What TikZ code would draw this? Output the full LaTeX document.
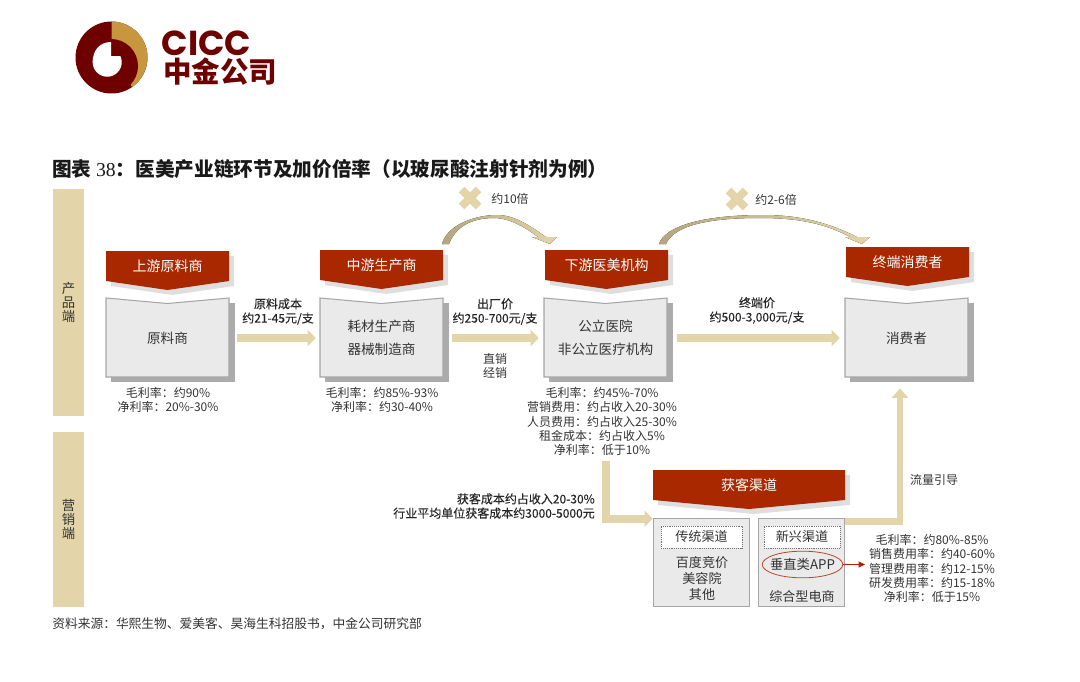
\documentclass[tikz,border=0pt]{standalone}
\usepackage{fontspec}
\setmainfont{Noto Sans CJK SC}
\newfontfamily\serifdigits{Liberation Serif}
\newfontfamily\logofont{Poppins}
\newfontfamily\medfont[FakeBold=0.15]{Noto Sans CJK SC}
\usetikzlibrary{arrows.meta, calc, shapes.geometric}
\definecolor{ciccred}{HTML}{A92800}
\definecolor{logored}{HTML}{6E0000}
\definecolor{logogold}{HTML}{C8963E}
\definecolor{sand}{HTML}{E3D5A9}
\definecolor{sanddark}{HTML}{B5A67F}
\definecolor{sandpale}{HTML}{F0E9D4}
\definecolor{boxgray}{HTML}{EAEAEA}
\definecolor{boxline}{HTML}{A6A6A6}
\definecolor{shadowdark}{HTML}{ABABAB}
\definecolor{shadowlight}{HTML}{DEDEDE}
\definecolor{ink}{HTML}{333333}
\tikzset{
  notelabel/.style={inner sep=0pt, align=center, text=ink, font=\fontsize{9}{10.7}\selectfont},
  flowlabel/.style={inner sep=0pt, align=center, text=black!85, font=\medfont\fontsize{9}{10.7}\selectfont},
  sidelabel/.style={inner sep=0pt, align=center, text=ink, font=\fontsize{10}{10.5}\selectfont},
  bannerlabel/.style={inner sep=0pt, minimum height=22.5pt, text=white, font=\fontsize{10.5}{12}\selectfont},
  boxlabel/.style={inner sep=0pt, minimum width=92.25pt, minimum height=59.25pt, align=center,
    text=ink, font=\fontsize{10.2}{17.2}\selectfont},
  chanbox/.style={draw=boxline, fill=boxgray, line width=.8pt, inner sep=0pt},
  chantag/.style={draw=black!55, densely dotted, fill=white, inner sep=0pt, minimum height=16.5pt,
    text=ink, font=\fontsize{9.8}{12}\selectfont},
  flowarrow/.style={draw=sand, line width=6pt, -{Triangle[length=6pt, width=12pt]}},
  liftarrow/.style={draw=sand, line width=4.8pt, -{Triangle[length=7pt, width=12pt]}},
}
\begin{document}
\begin{tikzpicture}[x=0.75pt, y=-0.75pt]
  \useasboundingbox (0,0) rectangle (1080,681);
  % logo
  \fill[logored] (111.5,57.5) circle (27pt);
  \fill[logogold] (111.5,21.5) arc (90:-55:27pt) -- (111.5,57.5) -- cycle;
  \fill[logored] (111,66) circle (20.25pt);
  \fill[white] (107.2,62.2) circle (10.9pt);
  \fill[logored] (111,45) rectangle (123,56);
  \fill[white] (111,42) .. controls (100,42) and (92.7,50) .. (92.7,62) -- (111,62) -- cycle;
  \node[inner sep=0pt, anchor=base west, text height=19pt, text depth=0pt, text=logored,
    font=\logofont\bfseries\fontsize{26}{26}\selectfont] (logoname) at (161.5,55.5) {CICC};
  \node[inner sep=0pt, anchor=base west, text height=17pt, text depth=2pt, text=logored,
    font=\bfseries\fontsize{21.4}{21}\selectfont] (logocn) at (163,83) {中金公司};
  % title
  \node[inner sep=0pt, anchor=west, text=black!90, font=\bfseries\fontsize{14.75}{16}\selectfont] (charttitle) at (52,169)
    {图表 {\serifdigits\mdseries 38}：医美产业链环节及加价倍率（以玻尿酸注射针剂为例）};
  % side bars
  \fill[sand] (53,189) rectangle (84,416);
  \fill[sand] (53,432) rectangle (84,607);
  \node[sidelabel] (productside) at (68.5,302) {产\\品\\端};
  \node[sidelabel] (marketside) at (68.5,519) {营\\销\\端};
  % notched boxes
  \foreach \nm/\x/\y/\txt in {rawbox/106/298/原料商, midbox/320/298/{耗材生产商\\器械制造商},
      lowbox/544/298/{公立医院\\非公立医疗机构}, endbox/845/298/消费者}{
    \fill[shadowdark] (\x+5,\y+5) rectangle (\x+129,\y+84);
    \draw[boxline, fill=boxgray, line width=.8pt] (\x,\y) -- (\x+61.5,\y+5.5) -- (\x+123,\y)
      -- (\x+123,\y+79) -- (\x,\y+79) -- cycle;
    \node[boxlabel] (\nm) at (\x+61.5,\y+40) {\txt};
  }
  % red banners
  \foreach \nm/\x/\y/\w/\txt in {rawban/106/251/123/上游原料商, midban/320/250/123/中游生产商,
      lowban/545/250/123/下游医美机构, endban/846/247/123/终端消费者, chanban/653/470/192/获客渠道}{
    \fill[shadowlight] (\x+5,\y+5) -- (\x+\w+5,\y+5) -- (\x+\w+5,\y+35) -- (\x+\w/2+5,\y+44) -- (\x+5,\y+35) -- cycle;
    \fill[ciccred] (\x,\y) -- (\x+\w,\y) -- (\x+\w,\y+30) -- (\x+\w/2,\y+39) -- (\x,\y+30) -- cycle;
    \node[bannerlabel, minimum width=\w*0.75pt] (\nm) at (\x+\w/2,\y+15) {\txt};
  }
  % channel boxes
  \node[chanbox, minimum width=72.5pt, minimum height=66.5pt] (chanold) at (701.5,562.5) {};
  \node[chanbox, minimum width=65pt, minimum height=66.5pt] (channew) at (801.5,562.5) {};
  \node[chantag, minimum width=60.5pt] (oldtag) at (701.5,537) {传统渠道};
  \node[chantag, minimum width=57pt] (newtag) at (802,537) {新兴渠道};
  \node[inner sep=0pt, align=center, text=ink, font=\fontsize{9.8}{12}\selectfont] (oldlist) at (702,578) {百度竞价\\美容院\\其他};
  \node[draw=ciccred!85, ellipse, line width=.6pt, minimum height=20pt, inner xsep=-3pt, inner ysep=0pt,
    text=ink, font=\fontsize{10}{12}\selectfont] (appring) at (802.5,564.5) {垂直类APP};
  \node[inner sep=0pt, text=ink, font=\fontsize{9.8}{12}\selectfont] (mallname) at (802,596) {综合型电商};
  % flow arrows
  \draw[flowarrow] ($(rawbox.east)+(8,0)$) -- ($(midbox.west)+(-4,0)$);
  \draw[flowarrow] ($(midbox.east)+(9,0)$) -- ($(lowbox.west)+(-5,0)$);
  \draw[flowarrow] ($(lowbox.east)+(10,0)$) -- ($(endbox.west)+(-5,0)$);
  % text notes
  \node[flowlabel] (rawcost) at (278,311.5) {原料成本\\约21-45元/支};
  \node[flowlabel] (factorycost) at (495,311.5) {出厂价\\约250-700元/支};
  \node[notelabel] (saleways) at (495,366) {直销\\经销};
  \node[flowlabel] (endcost) at (757,310.5) {终端价\\约500-3,000元/支};
  \node[notelabel] (rawnote) at (168,400) {毛利率：约90\%\\净利率：20\%-30\%};
  \node[notelabel] (midnote) at (382,400) {毛利率：约85\%-93\%\\净利率：约30-40\%};
  \node[notelabel] (lownote) at (602,421.5) {毛利率：约45\%-70\%\\营销费用：约占收入20-30\%\\人员费用：约占收入25-30\%\\租金成本：约占收入5\%\\净利率：低于10\%};
  \node[flowlabel, align=right, anchor=east] (costnote) at (595,506) {获客成本约占收入20-30\%\\行业平均单位获客成本约3000-5000元};
  \node[notelabel] (appnote) at (932,568.5) {毛利率：约80\%-85\%\\销售费用率：约40-60\%\\管理费用率：约12-15\%\\研发费用率：约15-18\%\\净利率：低于15\%};
  \node[notelabel] (trafficnote) at (934,480) {流量引导};
  \node[notelabel] (tenfold) at (510,199) {约10倍};
  \node[notelabel] (sixfold) at (776,200) {约2-6倍};
  % channel arrows
  \draw[flowarrow, shorten <=4pt] (lownote.south -| lowbox.south) |- ($(chanold.north west)+(0,1)$);
  \draw[liftarrow, shorten >=8pt] ($(channew.north east)+(0,4)$) -| ($(endbox.south)+(-6.5,0)$);
  \draw[ciccred, line width=.8pt, -{Triangle[length=5pt, width=4.5pt]}] (appring.east) -- ++(22,0) coordinate (append);
  % crosses
  \foreach \cx/\cy in {470/198, 737/199}{
    \draw[sand, line width=6pt] (\cx-8.5,\cy-8.5) -- (\cx+8.5,\cy+8.5);
    \draw[sand, line width=6pt] (\cx-8.5,\cy+8.5) -- (\cx+8.5,\cy-8.5);
  }
  % curved arrows
  \coordinate (leftstart) at (442,244);
  \coordinate (lefttop) at (497,215);
  \coordinate (lefttip) at (550,244);
  \fill[left color=sanddark, middle color=sandpale, right color=sand] (leftstart) .. controls +(5,-19) and +(-22,0) .. (lefttop)
    .. controls +(18,0) and +(-16,-11) .. ($(lefttip)+(-4,-7)$) -- ++(11,0) -- (lefttip) -- ++(-18,-7) -- ++(6,0)
    .. controls +(-12,-9) and +(16,0) .. ($(lefttop)+(-3,3)$) .. controls +(-24,0) and +(6,-16) .. ($(leftstart)+(7,0)$) -- cycle;
  \coordinate (rightstart) at (659,244);
  \coordinate (righttop) at (763,215);
  \coordinate (righttip) at (862,244);
  \fill[left color=sanddark, middle color=sandpale, right color=sand] (rightstart) .. controls +(6,-18) and +(-60,0) .. (righttop)
    .. controls +(40,0) and +(-26,-13) .. ($(righttip)+(-5,-7)$) -- ++(13,0) -- (righttip) -- ++(-17,-7) -- ++(5,0)
    .. controls +(-24,-13) and +(40,0) .. ($(righttop)+(-3,3)$) .. controls +(-60,0) and +(7,-16) .. ($(rightstart)+(7,0)$) -- cycle;
  % source
  \node[inner sep=0pt, anchor=west, text=ink, font=\fontsize{9.56}{11}\selectfont] (sourceline) at (52,624)
    {资料来源：华熙生物、爱美客、昊海生科招股书，中金公司研究部};
\end{tikzpicture}
\end{document}
